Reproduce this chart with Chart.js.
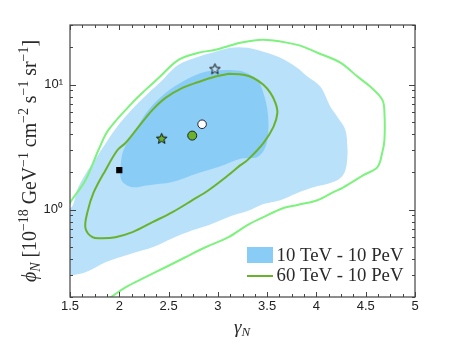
<!DOCTYPE html>
<html>
<head>
<meta charset="utf-8">
<script src="https://cdn.jsdelivr.net/npm/chart.js@4.4.1/dist/chart.umd.min.js"></script>
<style>
  html, body { margin: 0; padding: 0; background: #fff; }
</style>
</head>
<body>
<canvas id="myChart" width="457" height="351"></canvas>
<script>
// contour lines / regions (x = gamma_N, y = phi_N)
const outerGreenX = [1.46, 1.505, 1.657, 1.789, 1.890, 2.131, 2.266, 2.398, 2.600, 2.803, 2.976, 3.229, 3.462, 3.807, 4.010, 4.243, 4.416, 4.548, 4.669, 4.690, 4.690, 4.669, 4.619, 4.477, 4.274, 4.172, 4.010, 3.807, 3.665, 3.462, 3.300, 3.108, 2.874, 2.671, 2.469, 2.266, 2.063, 1.911, 1.81];
const outerGreenY = [0.96, 1.15, 1.72, 3.00, 4.34, 7.15, 9.08, 11.3, 15.8, 18.0, 19.0, 21.6, 22.9, 20.8, 18.0, 15.0, 11.6, 9.60, 7.55, 5.94, 3.61, 2.89, 2.19, 1.89, 1.51, 1.38, 1.19, 1.09, 1.03, 0.871, 0.751, 0.602, 0.500, 0.416, 0.346, 0.288, 0.239, 0.199, 0.178];

const innerGreenX = [3.108, 3.260, 3.361, 3.462, 3.533, 3.584, 3.604, 3.564, 3.462, 3.300, 3.229, 3.108, 2.905, 2.742, 2.540, 2.337, 2.134, 1.961, 1.830, 1.728, 1.657, 1.677, 1.738, 1.860, 1.982, 2.063, 2.195, 2.337, 2.469, 2.641, 2.803, 2.976, 3.108];
const innerGreenY = [12.2, 12.0, 11.3, 9.96, 8.59, 7.15, 5.94, 4.59, 3.41, 2.49, 2.27, 1.89, 1.43, 1.19, 0.955, 0.794, 0.660, 0.602, 0.591, 0.602, 0.711, 0.955, 1.36, 2.07, 3.00, 3.41, 4.59, 6.28, 7.84, 9.43, 10.5, 11.6, 12.2];

const outerBlueX = [1.45, 1.657, 1.860, 2.134, 2.337, 2.540, 2.742, 2.905, 3.128, 3.300, 3.462, 3.635, 3.807, 3.970, 4.142, 4.243, 4.294, 4.314, 4.314, 4.294, 4.213, 4.142, 4.041, 3.909, 3.807, 3.635, 3.462, 3.300, 3.128, 2.976, 2.803, 2.600, 2.418, 2.296, 2.134, 1.961, 1.830, 1.759, 1.657, 1.576, 1.525, 1.45, 1.45];
const outerBlueY = [0.29, 0.315, 0.379, 0.448, 0.500, 0.591, 0.685, 0.751, 0.887, 0.973, 1.11, 1.19, 1.36, 1.51, 1.63, 1.79, 2.07, 2.64, 3.17, 4.34, 5.52, 6.64, 9.60, 11.6, 13.6, 16.4, 18.3, 19.7, 19.7, 18.3, 16.7, 14.4, 10.5, 8.59, 6.40, 4.42, 3.11, 2.54, 1.93, 1.46, 1.07, 0.95, 0.29];

const innerBlueX = [3.077, 3.128, 3.260, 3.402, 3.462, 3.503, 3.513, 3.483, 3.402, 3.229, 3.006, 2.803, 2.540, 2.296, 2.134, 2.043, 2.012, 2.012, 2.043, 2.164, 2.296, 2.469, 2.671, 2.874, 3.077];
const innerBlueY = [13.1, 13.1, 12.7, 10.9, 8.59, 6.28, 4.34, 3.17, 2.64, 2.55, 2.19, 1.96, 1.66, 1.57, 1.51, 1.63, 1.82, 2.19, 3.00, 4.34, 6.28, 8.59, 10.9, 12.7, 13.1];

// best-fit markers
const squareX = [2.0], squareY = [2.07];
const greenStarX = [2.43], greenStarY = [3.72];
const greenDotX = [2.74], greenDotY = [3.91];
const openDotX = [2.84], openDotY = [4.82];
const blueStarX = [2.97], blueStarY = [13.4];

const yTickValues = [0.2, 0.3, 0.4, 0.5, 0.6, 0.7, 0.8, 0.9, 1, 2, 3, 4, 5, 6, 7, 8, 9, 10, 20, 30];
const yTickLabels = {1: '10⁰', 10: '10¹'};
const legendLabels = ['10 TeV - 10 PeV', '60 TeV - 10 PeV'];

const BLUE_DARK = '#89cdf7';
const BLUE_LIGHT = '#bae1fa';
const GREEN_DARK = '#68b22c';
const GREEN_LIGHT = '#7ef27e';
const SERIF = '"Liberation Serif", "DejaVu Serif", serif';
const SANS = '"Liberation Sans", Arial, sans-serif';

const pts = (xs, ys) => xs.map((x, i) => ({x: x, y: ys[i]}));

function starImage(fill) {
    const c = document.createElement('canvas');
    c.width = c.height = 13;
    const g = c.getContext('2d');
    const cx = 6.5, cy = 7, R = 5.6, r = 2.4;
    g.beginPath();
    for (let i = 0; i < 10; i++) {
        const a = -Math.PI / 2 + i * Math.PI / 5;
        const rad = i % 2 ? r : R;
        g.lineTo(cx + rad * Math.cos(a), cy + rad * Math.sin(a));
    }
    g.closePath();
    g.fillStyle = fill;
    g.fill();
    g.strokeStyle = '#111';
    g.lineWidth = 1;
    g.stroke();
    return c;
}

const isMajorX = v => Math.abs(v * 2 - Math.round(v * 2)) < 1e-6;
const isMajorY = v => v === 1 || v === 10;

// inward ticks on all four sides + frame
const axisBox = {
    id: 'axisBox',
    afterDatasetsDraw(chart) {
        const {ctx, chartArea: a, scales: {x, y}} = chart;
        ctx.save();
        ctx.strokeStyle = '#444';
        ctx.lineWidth = 1;
        ctx.beginPath();
        x.ticks.forEach(t => {
            const px = Math.round(x.getPixelForValue(t.value)) + 0.5;
            const len = isMajorX(t.value) ? 5 : 3;
            ctx.moveTo(px, a.bottom); ctx.lineTo(px, a.bottom - len);
            ctx.moveTo(px, a.top); ctx.lineTo(px, a.top + len);
        });
        y.ticks.forEach(t => {
            const py = Math.round(y.getPixelForValue(t.value)) + 0.5;
            const len = isMajorY(t.value) ? 6 : 3;
            ctx.moveTo(a.left, py); ctx.lineTo(a.left + len, py);
            ctx.moveTo(a.right, py); ctx.lineTo(a.right - len, py);
        });
        ctx.stroke();
        ctx.lineWidth = 1.2;
        ctx.strokeRect(a.left, a.top, a.right - a.left, a.bottom - a.top);
        ctx.restore();
    }
};

// text made of pieces (sub/superscripts), centred on x, stretched to a width if given
function drawRich(c, parts, x, y, width) {
    let w = 0;
    parts.forEach(p => { c.font = p.font; w += c.measureText(p.t).width; });
    const sx = width ? width / w : 1;
    c.save();
    c.translate(x - w * sx / 2, y);
    c.scale(sx, 1);
    let cx = 0;
    parts.forEach(p => {
        c.font = p.font;
        c.fillText(p.t, cx, p.dy || 0);
        cx += c.measureText(p.t).width;
    });
    c.restore();
}

// axis titles and the legend inside the plot
const annotations = {
    id: 'annotations',
    afterDraw(chart) {
        const {ctx, chartArea: a} = chart;
        ctx.save();
        ctx.fillStyle = '#2a2a2a';
        ctx.textAlign = 'left';
        ctx.textBaseline = 'alphabetic';

        const big = '20px ' + SERIF, small = '14px ' + SERIF;
        const yTitle = [
            {t: 'ϕ', font: 'italic ' + big},
            {t: 'N', font: 'italic ' + small, dy: 4},
            {t: ' [10', font: big},
            {t: '−18', font: small, dy: -8},
            {t: ' GeV', font: big},
            {t: '−1', font: small, dy: -8},
            {t: ' cm', font: big},
            {t: '−2', font: small, dy: -8},
            {t: ' s', font: big},
            {t: '−1', font: small, dy: -8},
            {t: ' sr', font: big},
            {t: '−1', font: small, dy: -8},
            {t: ']', font: big}
        ];
        ctx.save();
        ctx.translate(36, 161);
        ctx.rotate(-Math.PI / 2);
        drawRich(ctx, yTitle, 0, 0, 242);
        ctx.restore();

        const xTitle = [
            {t: 'γ', font: 'italic 19px ' + SERIF},
            {t: 'N', font: 'italic 13px ' + SERIF, dy: 3}
        ];
        drawRich(ctx, xTitle, 242, 333);

        // legend
        ctx.fillStyle = BLUE_DARK;
        ctx.fillRect(247, 247, 26, 16);
        ctx.strokeStyle = GREEN_DARK;
        ctx.lineWidth = 2;
        ctx.beginPath();
        ctx.moveTo(247, 276);
        ctx.lineTo(273, 276);
        ctx.stroke();
        ctx.fillStyle = '#2a2a2a';
        drawRich(ctx, [{t: legendLabels[0], font: '18px ' + SERIF}], 340, 261, 127);
        drawRich(ctx, [{t: legendLabels[1], font: '18px ' + SERIF}], 340, 281, 127);
        ctx.restore();
    }
};

const ctx = document.getElementById('myChart').getContext('2d');
const myChart = new Chart(ctx, {
    type: 'scatter',
    data: {
        datasets: [
            {
                label: 'square', data: pts(squareX, squareY),
                pointStyle: 'rect', pointRadius: 4.4, backgroundColor: '#000', borderColor: '#000', borderWidth: 0
            },
            {
                label: 'star 60 TeV', data: pts(greenStarX, greenStarY),
                pointStyle: starImage(GREEN_DARK)
            },
            {
                label: 'best fit 60 TeV', data: pts(greenDotX, greenDotY),
                pointStyle: 'circle', pointRadius: 4.5, backgroundColor: GREEN_DARK, borderColor: '#222', borderWidth: 1
            },
            {
                label: 'best fit 10 TeV', data: pts(openDotX, openDotY),
                pointStyle: 'circle', pointRadius: 4.3, backgroundColor: '#fff', borderColor: '#223', borderWidth: 1
            },
            {
                label: 'star 10 TeV', data: pts(blueStarX, blueStarY),
                pointStyle: starImage(BLUE_LIGHT)
            },
            {
                label: '60 TeV - 10 PeV', data: pts(innerGreenX, innerGreenY),
                showLine: true, pointRadius: 0, borderColor: GREEN_DARK, borderWidth: 2, tension: 0.35, fill: false
            },
            {
                label: '60 TeV - 10 PeV (outer)', data: pts(outerGreenX, outerGreenY),
                showLine: true, pointRadius: 0, borderColor: GREEN_LIGHT, borderWidth: 2, tension: 0.35, fill: false
            },
            {
                label: '10 TeV - 10 PeV', data: pts(innerBlueX, innerBlueY),
                showLine: true, pointRadius: 0, borderWidth: 0, borderColor: BLUE_DARK,
                backgroundColor: BLUE_DARK, tension: 0.35, fill: 'shape'
            },
            {
                label: '10 TeV - 10 PeV (outer)', data: pts(outerBlueX, outerBlueY),
                showLine: true, pointRadius: 0, borderWidth: 0, borderColor: BLUE_LIGHT,
                backgroundColor: BLUE_LIGHT, tension: 0.35, fill: 'shape'
            }
        ]
    },
    options: {
        responsive: false,
        animation: false,
        layout: { padding: { top: 25, right: 42, left: 0, bottom: 0 } },
        plugins: {
            legend: { display: false },
            tooltip: { enabled: false }
        },
        scales: {
            x: {
                type: 'linear',
                min: 1.5,
                max: 5,
                grid: { display: false, drawTicks: false },
                border: { display: false },
                afterFit: scale => { scale.height = 54; },
                ticks: {
                    stepSize: 0.125,
                    autoSkip: false,
                    maxRotation: 0,
                    padding: 2,
                    color: '#222',
                    font: { family: SANS, size: 13 },
                    callback: v => isMajorX(v) ? String(Math.round(v * 2) / 2) : ''
                }
            },
            y: {
                type: 'logarithmic',
                min: 0.2,
                max: 30,
                grid: { display: false, drawTicks: false },
                border: { display: false },
                afterFit: scale => { scale.width = 70; },
                afterBuildTicks: scale => { scale.ticks = yTickValues.map(v => ({value: v})); },
                ticks: {
                    autoSkip: false,
                    padding: 7,
                    color: '#222',
                    font: { family: SANS, size: 13 },
                    callback: v => yTickLabels[v] || ''
                }
            }
        }
    },
    plugins: [axisBox, annotations]
});
</script>
</body>
</html>
